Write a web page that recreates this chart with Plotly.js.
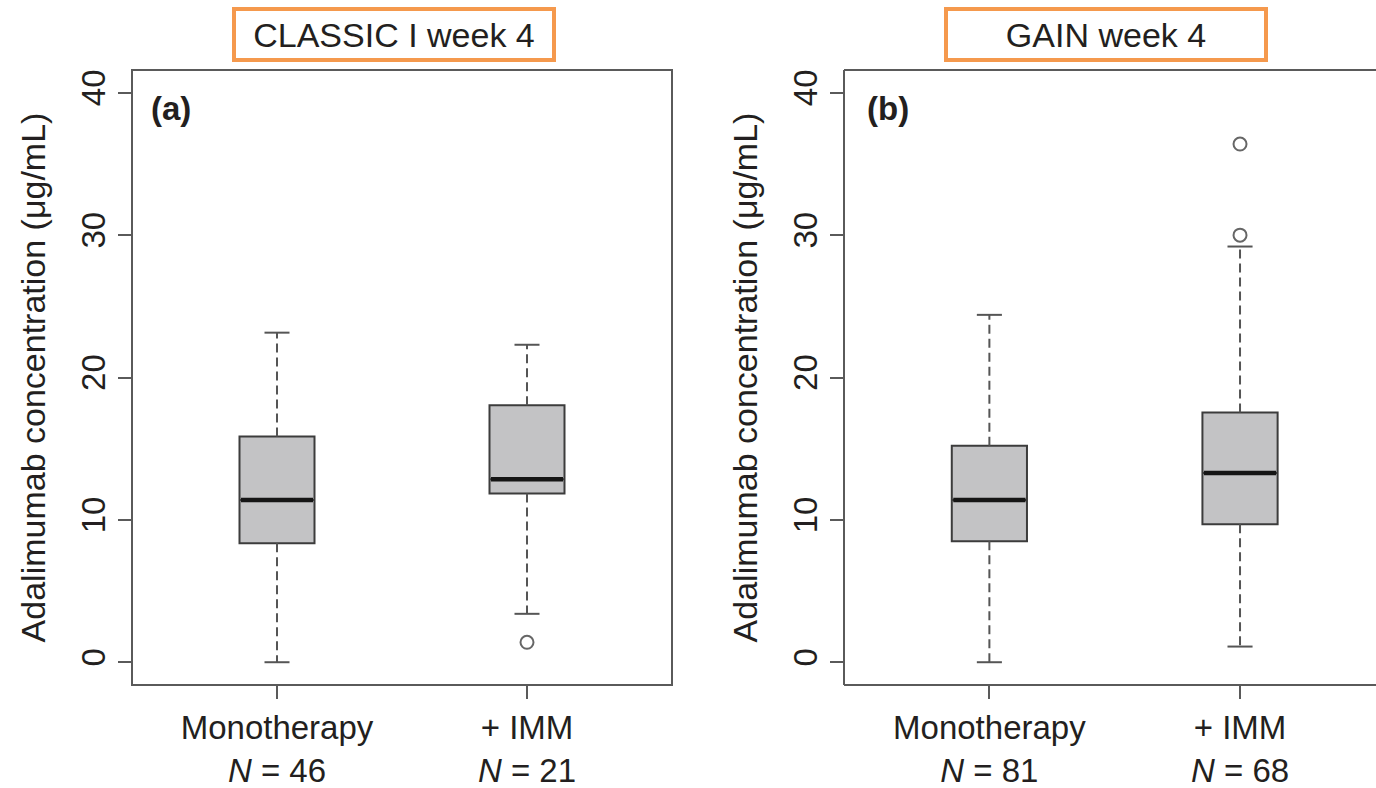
<!DOCTYPE html>
<html><head><meta charset="utf-8">
<script src="https://cdn.plot.ly/plotly-3.0.1.min.js"></script>
<style>html,body{margin:0;padding:0;background:#fff}#chart{width:1376px;height:788px}</style>
</head><body><div id="chart"></div>
<script>
// ---- data ----
const categories = ['Monotherapy', '+ IMM'];
const classicN = [46, 21];
const gainN = [81, 68];

const classicLower = [0.0, 3.4];
const classicQ1 = [8.35, 11.85];
const classicMedian = [11.4, 12.85];
const classicQ3 = [15.85, 18.05];
const classicUpper = [23.15, 22.3];
const classicOutliers = [[], [1.4]];

const gainLower = [0.0, 1.1];
const gainQ1 = [8.5, 9.7];
const gainMedian = [11.4, 13.3];
const gainQ3 = [15.2, 17.55];
const gainUpper = [24.4, 29.2];
const gainOutliers = [[], [30.0, 36.4]];

const yTicks = [0, 10, 20, 30, 40];
const panelTitles = ['CLASSIC I week 4', 'GAIN week 4'];
const panelLabels = ['(a)', '(b)'];
const yTitle = 'Adalimumab concentration (μg/mL)';

// ---- styling ----
const FONT = 'Liberation Sans, Arial, Helvetica, sans-serif';
const TXT = '#231f20';
const AX = '#5a5a5a';
const BOXW = 0.30, CAPW = 0.10;

function panelTraces(xa, ya, lower, q1, med, q3, upper, outliers) {
  const pos = categories.map((c, i) => i + 1);
  const wx = [], wy = [], cx = [], cy = [], mx = [], my = [], ox = [], oy = [];
  pos.forEach((p, i) => {
    wx.push(p, p, null, p, p, null);
    wy.push(q3[i], upper[i], null, q1[i], lower[i], null);
    cx.push(p - CAPW / 2, p + CAPW / 2, null, p - CAPW / 2, p + CAPW / 2, null);
    cy.push(upper[i], upper[i], null, lower[i], lower[i], null);
    mx.push(p - BOXW / 2 + 0.006, p + BOXW / 2 - 0.006, null);
    my.push(med[i], med[i], null);
    outliers[i].forEach(v => { ox.push(p); oy.push(v); });
  });
  const common = {xaxis: xa, yaxis: ya, showlegend: false, hoverinfo: 'skip'};
  return [
    Object.assign({type: 'scatter', mode: 'lines', x: wx, y: wy,
      line: {color: '#555', width: 2, dash: '9px,5px'}}, common),
    Object.assign({type: 'scatter', mode: 'lines', x: cx, y: cy,
      line: {color: '#555', width: 2}}, common),
    Object.assign({type: 'box', x: pos, q1: q1, median: med, q3: q3,
      lowerfence: q1, upperfence: q3, width: BOXW, whiskerwidth: 0,
      boxpoints: false, fillcolor: '#c3c3c5', line: {color: '#3c3c3c', width: 2}}, common),
    Object.assign({type: 'scatter', mode: 'lines', x: mx, y: my,
      line: {color: '#151515', width: 4.5}}, common),
    Object.assign({type: 'scatter', mode: 'markers', x: ox, y: oy,
      marker: {symbol: 'circle-open', size: 13, color: '#666', line: {width: 2, color: '#666'}}}, common)
  ];
}

const data = [].concat(
  panelTraces('x', 'y', classicLower, classicQ1, classicMedian, classicQ3, classicUpper, classicOutliers),
  panelTraces('x2', 'y2', gainLower, gainQ1, gainMedian, gainQ3, gainUpper, gainOutliers)
);

const W = 1376, H = 788;
const yDom = [(H - 685) / H, (H - 70) / H];

function xAxis(domain, range, ns, anchor) {
  return {
    domain: domain, range: range, anchor: anchor,
    tickmode: 'array', tickvals: categories.map((c, i) => i + 1),
    ticktext: categories.map((c, i) => c + '<br><i>N</i> = ' + ns[i]),
    ticks: 'outside', ticklen: 13, tickwidth: 2, tickcolor: AX,
    tickfont: {family: FONT, size: 33, color: TXT},
    showline: false, showgrid: false, zeroline: false, automargin: false
  };
}
function yAxis(anchor) {
  return {
    domain: yDom, range: [-1.6, 41.6], anchor: anchor,
    tickmode: 'array', tickvals: yTicks, ticktext: yTicks.map(String),
    ticks: 'outside', ticklen: 13, tickwidth: 2, tickcolor: AX, tickangle: -90,
    tickfont: {family: FONT, size: 33, color: TXT},
    title: {text: yTitle, font: {family: FONT, size: 34, color: TXT}, standoff: 18},
    showline: false, showgrid: false, zeroline: false, automargin: false
  };
}

const frame = {color: AX, width: 2};
const layout = {
  width: W, height: H,
  margin: {l: 0, r: 0, t: 0, b: 0, pad: 0},
  paper_bgcolor: '#fff', plot_bgcolor: '#fff',
  font: {family: FONT, color: TXT},
  showlegend: false,
  xaxis: xAxis([132 / W, 672 / W], [0.42, 2.58], classicN, 'y'),
  yaxis: yAxis('x'),
  xaxis2: xAxis([844 / W, 1], [0.42, 2.5425], gainN, 'y2'),
  yaxis2: yAxis('x2'),
  shapes: [
    {type: 'rect', xref: 'x domain', yref: 'y domain', x0: 0, x1: 1, y0: 0, y1: 1, line: frame},
    {type: 'line', xref: 'x2 domain', yref: 'y2 domain', x0: 0, x1: 0, y0: 0, y1: 1, line: frame},
    {type: 'line', xref: 'x2 domain', yref: 'y2 domain', x0: 0, x1: 1.01, y0: 1, y1: 1, line: frame},
    {type: 'line', xref: 'x2 domain', yref: 'y2 domain', x0: 0, x1: 1.01, y0: 0, y1: 0, line: frame}
  ],
  annotations: [
    {xref: 'paper', yref: 'paper', x: 394 / W, y: (H - 34.5) / H, xanchor: 'center', yanchor: 'middle',
     text: panelTitles[0], showarrow: false, font: {family: FONT, size: 34, color: TXT},
     bordercolor: '#F5994D', borderwidth: 4, borderpad: 2, width: 312, height: 43, bgcolor: '#fff'},
    {xref: 'paper', yref: 'paper', x: 1105.5 / W, y: (H - 34.5) / H, xanchor: 'center', yanchor: 'middle',
     text: panelTitles[1], showarrow: false, font: {family: FONT, size: 34, color: TXT},
     bordercolor: '#F5994D', borderwidth: 4, borderpad: 2, width: 312, height: 43, bgcolor: '#fff'},
    {xref: 'x domain', yref: 'y domain', x: 0.031, y: 0.938, xanchor: 'left', yanchor: 'middle',
     text: '<b>' + panelLabels[0] + '</b>', showarrow: false, font: {family: FONT, size: 33, color: TXT}},
    {xref: 'x2 domain', yref: 'y2 domain', x: 0.040, y: 0.938, xanchor: 'left', yanchor: 'middle',
     text: '<b>' + panelLabels[1] + '</b>', showarrow: false, font: {family: FONT, size: 33, color: TXT}}
  ]
};

Plotly.newPlot('chart', data, layout, {staticPlot: true, displayModeBar: false});
</script>
</body></html>
